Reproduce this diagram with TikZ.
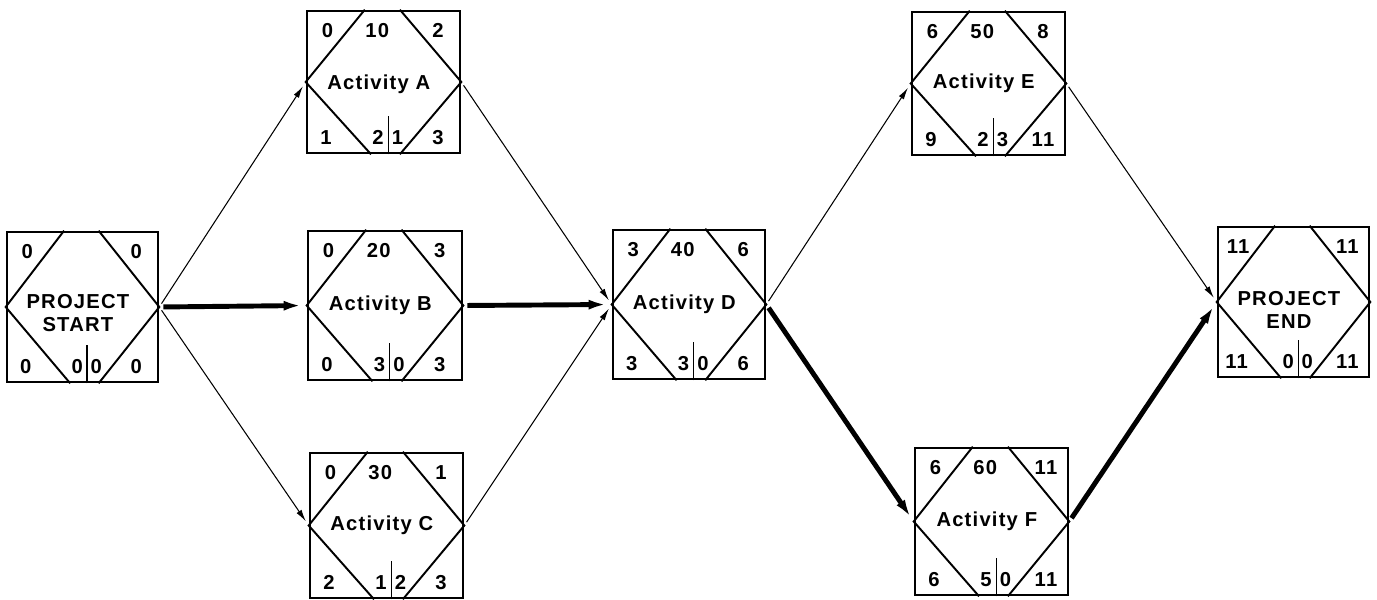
\documentclass[tikz,border=0pt]{standalone}
\usepackage{fontspec}
\setmainfont{Liberation Sans}[LetterSpace=6]
\usetikzlibrary{calc,arrows.meta}
\tikzset{
  netboxstyle/.style={draw, line width=1.5pt, rectangle, inner sep=0pt},
  hexline/.style={line width=1.1pt},
  divline/.style={line width=0.7pt},
  lbl/.style={font=\fontsize{11.5}{13}\selectfont\bfseries, inner sep=0pt, align=center},
  num/.style={font=\fontsize{11.5}{13}\selectfont\bfseries, inner sep=0pt},
  thinarrow/.style={line width=0.6pt, -{Latex[length=2.4mm,width=1.2mm]}, shorten <=0.8mm, shorten >=1mm},
  thickarrow/.style={line width=2.8pt, -{Latex[length=3.6mm,width=2mm]}, shorten <=0.8mm, shorten >=1mm}
}
\newcommand\netbox[6]{%
  \node[netboxstyle, minimum width=#3*0.2mm, minimum height=#4*0.2mm] (#1) at (#2) {};
  \draw[hexline] ($(#1.north west)!0.38!(#1.north east)$) -- (#1.west) -- ($(#1.south west)!0.42!(#1.south east)$)
     ($(#1.north west)!0.605!(#1.north east)$) -- (#1.east) -- ($(#1.south west)!0.605!(#1.south east)$);
  \draw[divline] ($(#1.south west)!0.53!(#1.south east)$) -- ++(0,-38);
  \node[lbl] (#1-l) at ($(#1.west)!0.47!(#1.east)+(0,#6)$) {#5};
}
\newcommand\nums[8]{%
  \node[num] (#1-tl) at ($(#1.north west)!0.14!(#1.north east)+(0,21)$) {#2};
  \if\relax\detokenize{#3}\relax\else
  \node[num] (#1-tm) at ($(#1.north west)!0.46!(#1.north east)+(0,21)$) {#3};
  \fi
  \node[num] (#1-tr) at ($(#1.north west)!0.85!(#1.north east)+(0,21)$) {#4};
  \node[num] (#1-bl) at ($(#1.south west)!0.13!(#1.south east)+(0,-17)$) {#5};
  \node[num] (#1-bm) at ($(#1.south west)!0.465!(#1.south east)+(0,-17)$) {#6};
  \node[num] (#1-bn) at ($(#1.south west)!0.59!(#1.south east)+(0,-17)$) {#7};
  \node[num] (#1-br) at ($(#1.south west)!0.85!(#1.south east)+(0,-17)$) {#8};
}
\begin{document}
\begin{tikzpicture}[x=0.2mm, y=-0.2mm]
\useasboundingbox (0,0) rectangle (1377,600);
\netbox{S}{82.5,307}{151}{150}{PROJECT\\START}{6}
\nums{S}{0}{}{0}{0}{0}{0}{0}
\netbox{A}{383.5,82}{153}{142}{Activity A}{2}
\nums{A}{0}{10}{2}{1}{2}{1}{3}
\netbox{B}{385,305.5}{154}{149}{Activity B}{0}
\nums{B}{0}{20}{3}{0}{3}{0}{3}
\netbox{C}{386.5,525.5}{153}{145}{Activity C}{0}
\nums{C}{0}{30}{1}{2}{1}{2}{3}
\netbox{D}{689,304.5}{152}{149}{Activity D}{0}
\nums{D}{3}{40}{6}{3}{3}{0}{6}
\netbox{E}{988.5,83.5}{153}{143}{Activity E}{0}
\nums{E}{6}{50}{8}{9}{2}{3}{11}
\netbox{F}{991.5,521.5}{153}{147}{Activity F}{0}
\nums{F}{6}{60}{11}{6}{5}{0}{11}
\netbox{T}{1293.5,302}{151}{150}{PROJECT\\END}{8}
\nums{T}{11}{}{11}{11}{0}{0}{11}
\draw[thinarrow] (S.east) -- (A.west);
\draw[thickarrow] (S.east) -- (B.west);
\draw[thinarrow] (S.east) -- (C.west);
\draw[thinarrow] (A.east) -- (D.west);
\draw[thickarrow] (B.east) -- (D.west);
\draw[thinarrow] (C.east) -- (D.west);
\draw[thinarrow] (D.east) -- (E.west);
\draw[thickarrow] (D.east) -- (F.west);
\draw[thinarrow] (E.east) -- (T.west);
\draw[thickarrow] (F.east) -- (T.west);
\end{tikzpicture}
\end{document}
